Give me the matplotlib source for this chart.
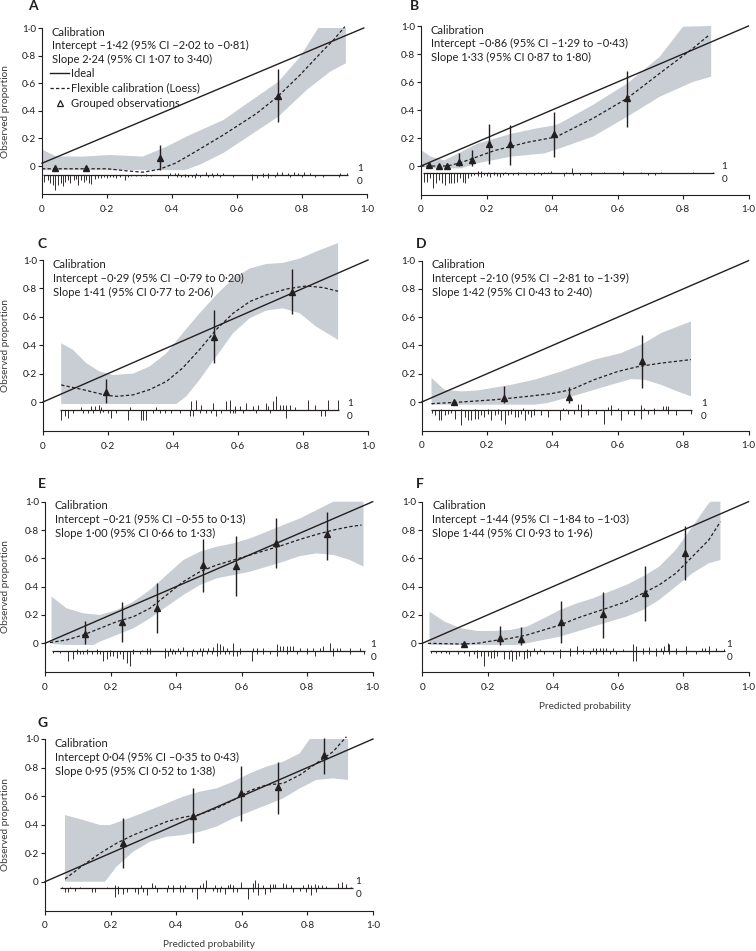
import numpy as np
import matplotlib
matplotlib.use("Agg")
import matplotlib.pyplot as plt
from matplotlib.lines import Line2D

plt.rcParams['font.family'] = ['Lato', 'DejaVu Sans']

INK = '#231f20'
BAND = '#c8ced4'

# ------------------------------------------------------------------ data
tick_values = [0.0, 0.2, 0.4, 0.6, 0.8, 1.0]

intercept_text = {
    'A': 'Intercept \u20131\u00b742 (95% CI \u20132\u00b702 to \u20130\u00b781)',
    'B': 'Intercept \u20130\u00b786 (95% CI \u20131\u00b729 to \u20130\u00b743)',
    'C': 'Intercept \u20130\u00b729 (95% CI \u20130\u00b779 to 0\u00b720)',
    'D': 'Intercept \u20132\u00b710 (95% CI \u20132\u00b781 to \u20131\u00b739)',
    'E': 'Intercept \u20130\u00b721 (95% CI \u20130\u00b755 to 0\u00b713)',
    'F': 'Intercept \u20131\u00b744 (95% CI \u20131\u00b784 to \u20131\u00b703)',
    'G': 'Intercept 0\u00b704 (95% CI \u20130\u00b735 to 0\u00b743)',
}
slope_text = {
    'A': 'Slope 2\u00b724 (95% CI 1\u00b707 to 3\u00b740)',
    'B': 'Slope 1\u00b733 (95% CI 0\u00b787 to 1\u00b780)',
    'C': 'Slope 1\u00b741 (95% CI 0\u00b777 to 2\u00b706)',
    'D': 'Slope 1\u00b742 (95% CI 0\u00b743 to 2\u00b740)',
    'E': 'Slope 1\u00b700 (95% CI 0\u00b766 to 1\u00b733)',
    'F': 'Slope 1\u00b744 (95% CI 0\u00b793 to 1\u00b796)',
    'G': 'Slope 0\u00b795 (95% CI 0\u00b752 to 1\u00b738)',
}

ideal_x = [0.0, 1.0]
ideal_y = [0.0, 1.0]
a_ideal_x = [0.0, 0.99]
a_ideal_y = [0.02, 1.0]

# ---- Panel A
a_loess_x = [0.0, 0.10, 0.20, 0.26, 0.31, 0.36, 0.41, 0.455, 0.558, 0.66, 0.727, 0.794, 0.866, 0.897, 0.932]
a_loess_y = [-0.02, -0.02, -0.02, -0.035, -0.045, -0.025, 0.02, 0.08, 0.225, 0.38, 0.507, 0.66, 0.84, 0.913, 1.01]
a_upper_x = [0.0, 0.043, 0.126, 0.21, 0.31, 0.383, 0.455, 0.558, 0.727, 0.794, 0.85, 0.935]
a_upper_y = [0.12, 0.07, 0.068, 0.08, 0.068, 0.14, 0.225, 0.333, 0.61, 0.79, 1.0, 1.0]
a_lower_x = [0.0, 0.44, 0.486, 0.558, 0.727, 0.814, 0.886, 0.935]
a_lower_y = [-0.03, -0.03, 0.01, 0.094, 0.357, 0.55, 0.683, 0.744]
a_obs_x = [0.041, 0.134, 0.364, 0.725]
a_obs_y = [-0.017, -0.017, 0.056, 0.51]
a_obs_lo = [-0.017, -0.017, -0.03, 0.32]
a_obs_hi = [-0.017, -0.017, 0.15, 0.70]
a_rug0_x = [0.007, 0.017, 0.025, 0.033, 0.041, 0.048, 0.057, 0.064, 0.072, 0.079, 0.087, 0.097, 0.105, 0.112,
            0.120, 0.128, 0.136, 0.144, 0.151, 0.162, 0.172, 0.182, 0.192, 0.201, 0.210, 0.218, 0.228, 0.239,
            0.254, 0.264, 0.275, 0.290, 0.306, 0.321, 0.336, 0.388, 0.414, 0.429, 0.439, 0.450, 0.460, 0.470,
            0.486, 0.511, 0.527, 0.547, 0.588, 0.645, 0.660, 0.681, 0.696, 0.717, 0.763, 0.799, 0.841, 0.866, 0.913]
a_rug0_n = [20, 15, 25, 30, 45, 30, 25, 35, 20, 15, 25, 15, 12, 30, 15, 20, 15, 25, 28, 12, 10, 8, 6, 8, 5, 6, 8, 6,
            15, 5, 4, 4, 4, 4, 4, 8, 6, 6, 6, 6, 6, 8, 5, 5, 5, 5, 6, 15, 8, 6, 10, 6, 5, 6, 5, 5, 5]
a_rug1_x = [0.321, 0.393, 0.408, 0.419, 0.439, 0.475, 0.506, 0.522, 0.537, 0.558, 0.645, 0.681, 0.696, 0.722,
            0.738, 0.758, 0.774, 0.789, 0.805, 0.825, 0.918, 0.938]
a_rug1_n = [3, 5, 5, 5, 3, 5, 8, 5, 5, 5, 4, 5, 5, 8, 10, 6, 8, 6, 10, 5, 6, 5]

# ---- Panel B
b_loess_x = [0.0, 0.03, 0.081, 0.122, 0.173, 0.224, 0.275, 0.326, 0.407, 0.424, 0.525, 0.63, 0.729, 0.83, 0.88]
b_loess_y = [0.0, 0.0, 0.0, 0.024, 0.067, 0.11, 0.14, 0.17, 0.205, 0.221, 0.34, 0.484, 0.662, 0.84, 0.936]
b_upper_x = [0.0, 0.03, 0.071, 0.173, 0.275, 0.356, 0.407, 0.424, 0.525, 0.63, 0.729, 0.80, 0.886]
b_upper_y = [0.114, 0.067, 0.04, 0.16, 0.23, 0.27, 0.29, 0.305, 0.436, 0.59, 0.78, 0.995, 1.0]
b_lower_x = [0.0, 0.03, 0.122, 0.173, 0.275, 0.377, 0.424, 0.525, 0.63, 0.729, 0.83, 0.886]
b_lower_y = [-0.005, -0.017, -0.017, 0.02, 0.067, 0.09, 0.126, 0.21, 0.352, 0.495, 0.60, 0.638]
b_obs_x = [0.025, 0.056, 0.079, 0.115, 0.156, 0.207, 0.273, 0.405, 0.63]
b_obs_y = [0.007, 0.0, 0.0, 0.03, 0.043, 0.157, 0.157, 0.226, 0.488]
b_obs_lo = [0.007, 0.0, 0.0, 0.0, 0.0, 0.012, 0.01, 0.062, 0.28]
b_obs_hi = [0.007, 0.0, 0.0, 0.09, 0.114, 0.30, 0.29, 0.383, 0.68]
b_rug0_x = [0.010, 0.018, 0.027, 0.037, 0.046, 0.056, 0.064, 0.073, 0.084, 0.092, 0.102, 0.110, 0.118, 0.127,
            0.134, 0.143, 0.153, 0.163, 0.173, 0.183, 0.193, 0.202, 0.212, 0.222, 0.232, 0.240, 0.251, 0.265,
            0.280, 0.295, 0.321, 0.346, 0.367, 0.438, 0.463, 0.484, 0.519, 0.616, 0.692, 0.713]
b_rug0_n = [25, 25, 15, 45, 30, 20, 30, 35, 30, 30, 30, 25, 15, 25, 30, 15, 8, 6, 8, 12, 6, 8, 10, 6, 8, 10, 6, 5,
            4, 5, 4, 5, 5, 8, 6, 5, 5, 5, 4, 4]
b_rug1_x = [0.173, 0.183, 0.204, 0.224, 0.255, 0.295, 0.356, 0.377, 0.387, 0.397, 0.443, 0.460, 0.519, 0.560,
            0.616, 0.672, 0.733, 0.830, 0.891]
b_rug1_n = [6, 8, 5, 4, 4, 3, 5, 5, 3, 6, 5, 15, 4, 4, 6, 3, 3, 5, 3]

# ---- Panel C
c_loess_x = [0.056, 0.123, 0.195, 0.226, 0.277, 0.328, 0.38, 0.43, 0.482, 0.533, 0.585, 0.636, 0.687, 0.749,
             0.81, 0.862, 0.908]
c_loess_y = [0.12, 0.087, 0.047, 0.04, 0.05, 0.087, 0.145, 0.24, 0.37, 0.51, 0.625, 0.707, 0.754, 0.796,
             0.817, 0.806, 0.78]
c_upper_x = [0.056, 0.092, 0.133, 0.174, 0.215, 0.277, 0.328, 0.38, 0.43, 0.482, 0.533, 0.585, 0.636, 0.687,
             0.738, 0.79, 0.841, 0.908]
c_upper_y = [0.414, 0.368, 0.274, 0.215, 0.19, 0.2, 0.25, 0.344, 0.485, 0.625, 0.754, 0.87, 0.94, 0.972,
             0.98, 1.01, 1.06, 1.12]
c_lower_x = [0.056, 0.41, 0.441, 0.482, 0.533, 0.585, 0.636, 0.687, 0.738, 0.79, 0.841, 0.908]
c_lower_y = [-0.014, -0.014, 0.04, 0.157, 0.32, 0.485, 0.59, 0.644, 0.66, 0.625, 0.53, 0.438]
c_obs_x = [0.195, 0.526, 0.766]
c_obs_y = [0.07, 0.46, 0.777]
c_obs_lo = [-0.007, 0.274, 0.618]
c_obs_hi = [0.16, 0.65, 0.934]
c_rug0_x = [0.056, 0.067, 0.077, 0.092, 0.123, 0.138, 0.154, 0.174, 0.185, 0.200, 0.210, 0.226, 0.262, 0.303,
            0.308, 0.318, 0.338, 0.359, 0.374, 0.395, 0.421, 0.451, 0.462, 0.482, 0.503, 0.518, 0.533, 0.549,
            0.574, 0.585, 0.590, 0.615, 0.656, 0.697, 0.749, 0.856, 0.867]
c_rug0_n = [30, 20, 25, 10, 10, 10, 10, 10, 8, 10, 25, 10, 30, 30, 30, 30, 10, 10, 10, 10, 10, 20, 20, 10, 10,
            10, 20, 10, 10, 10, 10, 10, 10, 10, 25, 20, 20]
c_rug1_x = [0.118, 0.149, 0.159, 0.172, 0.179, 0.267, 0.349, 0.456, 0.472, 0.487, 0.523, 0.564, 0.574, 0.590,
            0.605, 0.626, 0.646, 0.662, 0.687, 0.692, 0.708, 0.718, 0.728, 0.738, 0.749, 0.759, 0.774, 0.815,
            0.836, 0.877, 0.908]
c_rug1_n = [8, 12, 10, 15, 8, 8, 8, 25, 30, 15, 20, 25, 30, 12, 12, 20, 12, 15, 20, 10, 25, 40, 15, 15, 15, 15,
            8, 30, 15, 30, 30]

# ---- Panel D
d_loess_x = [0.03, 0.121, 0.223, 0.325, 0.396, 0.457, 0.528, 0.60, 0.661, 0.732, 0.824]
d_loess_y = [-0.012, 0.0, 0.016, 0.04, 0.059, 0.087, 0.158, 0.216, 0.25, 0.275, 0.30]
d_upper_x = [0.03, 0.07, 0.121, 0.172, 0.274, 0.345, 0.427, 0.528, 0.61, 0.681, 0.732, 0.783, 0.824]
d_upper_y = [0.17, 0.087, 0.075, 0.082, 0.122, 0.158, 0.216, 0.30, 0.346, 0.417, 0.487, 0.534, 0.57]
d_lower_x = [0.03, 0.345, 0.386, 0.478, 0.58, 0.641, 0.681, 0.732, 0.783, 0.824]
d_lower_y = [-0.019, -0.019, -0.007, 0.052, 0.122, 0.162, 0.158, 0.122, 0.075, 0.04]
d_obs_x = [0.1, 0.253, 0.452, 0.674]
d_obs_y = [-0.003, 0.028, 0.033, 0.287]
d_obs_lo = [-0.003, -0.01, -0.01, 0.10]
d_obs_hi = [-0.003, 0.11, 0.106, 0.475]
d_rug0_x = [0.033, 0.042, 0.052, 0.060, 0.070, 0.080, 0.091, 0.103, 0.121, 0.133, 0.142, 0.152, 0.162, 0.172,
            0.182, 0.192, 0.203, 0.213, 0.223, 0.233, 0.243, 0.254, 0.264, 0.274, 0.284, 0.294, 0.304, 0.315,
            0.325, 0.335, 0.345, 0.366, 0.386, 0.422, 0.447, 0.467, 0.488, 0.508, 0.534, 0.559, 0.579, 0.610,
            0.630, 0.651, 0.671, 0.691, 0.712, 0.753, 0.778, 0.824]
d_rug0_n = [8, 15, 30, 30, 15, 10, 8, 25, 45, 20, 30, 30, 25, 25, 15, 20, 10, 30, 15, 10, 30, 40, 15, 10, 20,
            20, 10, 30, 10, 20, 15, 15, 20, 30, 10, 10, 20, 15, 10, 40, 15, 30, 10, 15, 25, 10, 10, 10, 15, 10]
d_rug1_x = [0.060, 0.121, 0.162, 0.203, 0.233, 0.274, 0.310, 0.345, 0.432, 0.442, 0.478, 0.488, 0.508, 0.569,
            0.579, 0.600, 0.671, 0.681, 0.712, 0.737, 0.747, 0.753]
d_rug1_n = [4, 4, 4, 4, 4, 4, 8, 4, 8, 4, 18, 20, 4, 10, 15, 8, 15, 8, 8, 12, 12, 12]

# ---- Panel E
e_loess_x = [0.015, 0.066, 0.117, 0.168, 0.219, 0.27, 0.32, 0.371, 0.422, 0.473, 0.524, 0.575, 0.626, 0.677,
             0.727, 0.778, 0.829, 0.88, 0.931, 0.966]
e_loess_y = [0.005, 0.024, 0.059, 0.106, 0.153, 0.188, 0.247, 0.341, 0.435, 0.506, 0.553, 0.588, 0.624, 0.659,
             0.694, 0.734, 0.769, 0.80, 0.824, 0.835]
e_upper_x = [0.02, 0.066, 0.117, 0.168, 0.219, 0.27, 0.32, 0.371, 0.422, 0.473, 0.524, 0.575, 0.626, 0.677,
             0.727, 0.778, 0.829, 0.88, 0.972]
e_upper_y = [0.33, 0.247, 0.212, 0.2, 0.235, 0.294, 0.376, 0.482, 0.588, 0.647, 0.682, 0.706, 0.741, 0.788,
             0.835, 0.882, 0.941, 1.0, 1.0]
e_lower_x = [0.02, 0.066, 0.148, 0.168, 0.219, 0.27, 0.32, 0.371, 0.422, 0.473, 0.524, 0.575, 0.626, 0.677,
             0.727, 0.778, 0.829, 0.88, 0.931, 0.972]
e_lower_y = [-0.005, -0.012, -0.012, 0.012, 0.059, 0.106, 0.176, 0.259, 0.341, 0.412, 0.459, 0.482, 0.506,
             0.541, 0.576, 0.616, 0.635, 0.624, 0.588, 0.541]
e_obs_x = [0.122, 0.235, 0.342, 0.481, 0.582, 0.705, 0.861]
e_obs_y = [0.066, 0.153, 0.252, 0.553, 0.548, 0.706, 0.769]
e_obs_lo = [-0.007, 0.007, 0.07, 0.365, 0.334, 0.529, 0.588]
e_obs_hi = [0.16, 0.29, 0.424, 0.734, 0.758, 0.882, 0.929]
e_rug0_x = [0.025, 0.046, 0.071, 0.086, 0.099, 0.107, 0.117, 0.129, 0.142, 0.158, 0.168, 0.178, 0.188, 0.198,
            0.209, 0.219, 0.229, 0.239, 0.249, 0.259, 0.270, 0.290, 0.310, 0.320, 0.366, 0.376, 0.387, 0.397,
            0.412, 0.432, 0.448, 0.463, 0.478, 0.493, 0.509, 0.524, 0.534, 0.549, 0.560, 0.575, 0.585, 0.595,
            0.631, 0.646, 0.666, 0.687, 0.707, 0.738, 0.768, 0.799, 0.824, 0.880, 0.931, 0.972]
e_rug0_n = [5, 5, 30, 25, 10, 10, 8, 10, 8, 10, 10, 30, 25, 15, 15, 20, 10, 25, 35, 45, 8, 10, 10, 8, 20, 15,
            10, 10, 10, 15, 15, 10, 15, 10, 10, 15, 10, 10, 10, 15, 15, 10, 30, 10, 10, 10, 15, 10, 10, 10, 15,
            15, 10, 8]
e_rug1_x = [0.097, 0.127, 0.158, 0.198, 0.270, 0.295, 0.310, 0.320, 0.366, 0.381, 0.392, 0.407, 0.422, 0.453,
            0.473, 0.483, 0.498, 0.514, 0.524, 0.534, 0.544, 0.554, 0.575, 0.595, 0.636, 0.646, 0.666, 0.707,
            0.717, 0.727, 0.738, 0.748, 0.758, 0.778, 0.799, 0.819, 0.839, 0.849, 0.870, 0.880, 0.890, 0.900,
            0.931, 0.961]
e_rug1_n = [5, 5, 5, 4, 5, 4, 8, 8, 8, 8, 6, 10, 12, 5, 10, 10, 10, 12, 25, 20, 15, 10, 25, 10, 10, 10, 10, 20,
            15, 15, 15, 15, 15, 10, 10, 10, 10, 15, 25, 10, 10, 10, 10, 10]

# ---- Panel F
f_loess_x = [0.017, 0.119, 0.169, 0.22, 0.27, 0.321, 0.372, 0.422, 0.473, 0.524, 0.574, 0.625, 0.676, 0.726,
             0.777, 0.828, 0.878, 0.914]
f_loess_y = [0.0, -0.005, 0.0, 0.019, 0.035, 0.059, 0.094, 0.129, 0.176, 0.216, 0.254, 0.294, 0.353, 0.412,
             0.494, 0.612, 0.729, 0.859]
f_upper_x = [0.022, 0.068, 0.119, 0.169, 0.22, 0.27, 0.321, 0.372, 0.422, 0.473, 0.524, 0.574, 0.625, 0.676,
             0.726, 0.777, 0.828, 0.878, 0.884, 0.914]
f_upper_y = [0.224, 0.153, 0.106, 0.087, 0.087, 0.094, 0.118, 0.176, 0.235, 0.282, 0.318, 0.365, 0.412, 0.471,
             0.541, 0.659, 0.824, 0.988, 1.0, 1.0]
f_lower_x = [0.022, 0.29, 0.321, 0.372, 0.422, 0.473, 0.524, 0.574, 0.625, 0.676, 0.726, 0.777, 0.828, 0.878,
             0.914]
f_lower_y = [-0.012, -0.012, 0.0, 0.024, 0.047, 0.082, 0.118, 0.153, 0.188, 0.235, 0.306, 0.40, 0.494, 0.565,
             0.588]
f_obs_x = [0.127, 0.238, 0.304, 0.426, 0.554, 0.684, 0.805]
f_obs_y = [-0.005, 0.035, 0.033, 0.153, 0.205, 0.358, 0.64]
f_obs_lo = [-0.005, -0.012, -0.012, 0.005, 0.035, 0.16, 0.447]
f_obs_hi = [-0.005, 0.122, 0.113, 0.299, 0.365, 0.546, 0.828]
f_rug0_x = [0.027, 0.043, 0.058, 0.073, 0.083, 0.108, 0.129, 0.144, 0.159, 0.169, 0.179, 0.189, 0.200, 0.210,
            0.220, 0.230, 0.250, 0.265, 0.276, 0.286, 0.296, 0.311, 0.321, 0.331, 0.352, 0.372, 0.402, 0.422,
            0.453, 0.473, 0.493, 0.514, 0.534, 0.554, 0.574, 0.595, 0.645, 0.656, 0.676, 0.696, 0.716, 0.737,
            0.757, 0.777, 0.808, 0.838, 0.878]
f_rug0_n = [5, 5, 5, 5, 10, 10, 5, 15, 10, 20, 15, 45, 15, 20, 20, 15, 25, 25, 30, 25, 15, 25, 20, 15, 8, 10,
            10, 20, 15, 10, 10, 8, 10, 10, 10, 10, 30, 30, 10, 10, 15, 10, 10, 8, 8, 8, 8]
f_rug1_x = [0.169, 0.220, 0.271, 0.321, 0.341, 0.362, 0.422, 0.453, 0.473, 0.493, 0.524, 0.534, 0.544, 0.554,
            0.564, 0.585, 0.615, 0.645, 0.656, 0.676, 0.696, 0.716, 0.732, 0.742, 0.752, 0.757, 0.777, 0.808,
            0.858, 0.868, 0.878, 0.899, 0.924]
f_rug1_n = [4, 4, 4, 5, 10, 5, 6, 8, 15, 5, 8, 8, 10, 10, 8, 10, 5, 20, 15, 10, 12, 10, 10, 15, 25, 20, 10, 15,
            8, 8, 15, 8, 5]

# ---- Panel G
g_loess_x = [0.061, 0.117, 0.168, 0.218, 0.269, 0.32, 0.371, 0.421, 0.472, 0.523, 0.574, 0.624, 0.675, 0.726,
             0.777, 0.827, 0.878, 0.919]
g_loess_y = [0.019, 0.117, 0.199, 0.269, 0.327, 0.374, 0.421, 0.451, 0.472, 0.514, 0.572, 0.638, 0.678, 0.689,
             0.748, 0.829, 0.911, 1.016]
g_upper_x = [0.061, 0.117, 0.168, 0.198, 0.269, 0.32, 0.371, 0.421, 0.472, 0.523, 0.574, 0.624, 0.675, 0.726,
             0.777, 0.807, 0.924]
g_upper_y = [0.467, 0.432, 0.397, 0.397, 0.456, 0.502, 0.549, 0.596, 0.631, 0.654, 0.701, 0.759, 0.806, 0.841,
             0.90, 1.0, 1.0]
g_lower_x = [0.061, 0.183, 0.218, 0.269, 0.32, 0.371, 0.421, 0.472, 0.523, 0.574, 0.624, 0.675, 0.726, 0.777,
             0.827, 0.878, 0.924]
g_lower_y = [0.0, 0.0, 0.105, 0.21, 0.28, 0.315, 0.327, 0.35, 0.386, 0.444, 0.49, 0.537, 0.584, 0.654, 0.713,
             0.724, 0.713]
g_obs_x = [0.239, 0.452, 0.599, 0.711, 0.85]
g_obs_y = [0.273, 0.46, 0.619, 0.661, 0.888]
g_obs_lo = [0.098, 0.269, 0.428, 0.472, 0.752]
g_obs_hi = [0.444, 0.659, 0.811, 0.841, 1.005]
g_rug0_x = [0.061, 0.071, 0.091, 0.142, 0.152, 0.213, 0.223, 0.239, 0.249, 0.274, 0.284, 0.299, 0.310, 0.340,
            0.371, 0.391, 0.411, 0.421, 0.447, 0.462, 0.487, 0.513, 0.523, 0.533, 0.548, 0.574, 0.584, 0.619,
            0.635, 0.650, 0.670, 0.685, 0.756, 0.777, 0.797, 0.812, 0.827]
g_rug0_n = [10, 10, 8, 10, 10, 25, 15, 15, 10, 10, 15, 10, 20, 10, 10, 10, 10, 10, 10, 30, 10, 8, 10, 10, 15,
            10, 10, 30, 10, 20, 15, 10, 10, 8, 10, 20, 10]
g_rug1_x = [0.051, 0.076, 0.107, 0.188, 0.213, 0.223, 0.294, 0.325, 0.335, 0.376, 0.391, 0.411, 0.426, 0.472,
            0.482, 0.492, 0.518, 0.538, 0.558, 0.563, 0.574, 0.599, 0.635, 0.640, 0.650, 0.665, 0.685, 0.695,
            0.701, 0.726, 0.736, 0.751, 0.787, 0.802, 0.812, 0.822, 0.832, 0.843, 0.858, 0.893, 0.904, 0.919,
            0.934]
g_rug1_n = [5, 5, 5, 5, 10, 8, 10, 15, 10, 10, 10, 10, 10, 10, 15, 25, 10, 8, 10, 12, 10, 20, 15, 25, 15, 10,
            12, 12, 12, 15, 12, 10, 10, 12, 10, 12, 10, 10, 8, 15, 20, 12, 4]

# ------------------------------------------------------------------ layout / style
W, H = 756, 951
YMIN = -0.205
RUG_SCALE = 1 / 420.0   # spike length per count unit
TXT = 8.0
TICK = 7.2

# left, right (px of x=0 and x=1), top px (y=1), zero px (y=0)
layout = {
    'A': dict(px=(42, 367, 28, 166), letter=(28, 10), rug=-0.065, lab=0.04),
    'B': dict(px=(421, 748.5, 26, 166), letter=(410, 10), rug=-0.052, lab=0.035),
    'C': dict(px=(43, 368, 260, 402), letter=(38, 248), rug=-0.054, lab=0.036),
    'D': dict(px=(421.7, 748.5, 260.7, 402), letter=(416, 248), rug=-0.059, lab=0.04),
    'E': dict(px=(45, 372.7, 501.7, 643.3), letter=(38, 488), rug=-0.054, lab=0.03),
    'F': dict(px=(422.3, 748.5, 501.7, 643.3), letter=(416, 488), rug=-0.054, lab=0.018),
    'G': dict(px=(45, 373, 739, 881.7), letter=(38, 727), rug=-0.047, lab=0.022),
}

panels = {}
for key in 'ABCDEFG':
    p = key.lower()
    g = globals()
    panels[key] = dict(
        loess=(g[p + '_loess_x'], g[p + '_loess_y']),
        upper=(g[p + '_upper_x'], g[p + '_upper_y']),
        lower=(g[p + '_lower_x'], g[p + '_lower_y']),
        obs=(g[p + '_obs_x'], g[p + '_obs_y'], g[p + '_obs_lo'], g[p + '_obs_hi']),
        rug0=(g[p + '_rug0_x'], g[p + '_rug0_n']),
        rug1=(g[p + '_rug1_x'], g[p + '_rug1_n']),
    )


def fmt(v):
    return '0' if v == 0 else ('%.1f' % v).replace('.', '\u00b7')


fig = plt.figure(figsize=(W / 100, H / 100), dpi=100)

for key in 'ABCDEFG':
    d = panels[key]
    lay = layout[key]
    x0, x1, ytop, yzero = lay['px']
    unit = yzero - ytop
    ybot = yzero - YMIN * unit
    ax = fig.add_axes([x0 / W, 1 - ybot / H, (x1 - x0) / W, (ybot - ytop) / H])
    ax.set_xlim(0, 1)
    ax.set_ylim(YMIN, 1.0)
    ax.patch.set_alpha(0)

    # CI band
    ux, uy = d['upper']
    lx, ly = d['lower']
    ax.fill(list(ux) + list(lx)[::-1], list(uy) + list(ly)[::-1], color=BAND, lw=0,
            zorder=1, clip_on=False)

    # ideal line
    if key == 'A':
        ax.plot(a_ideal_x, a_ideal_y, color=INK, lw=1.0, zorder=3, clip_on=False)
    else:
        ax.plot(ideal_x, ideal_y, color=INK, lw=1.0, zorder=3, clip_on=False)

    # loess
    lxs, lys = d['loess']
    ax.plot(lxs, lys, color=INK, lw=0.9, ls=(0, (2.6, 1.8)), zorder=4, clip_on=False)

    # grouped observations
    ox, oy, olo, ohi = d['obs']
    ax.vlines(ox, olo, ohi, color=INK, lw=1.0, zorder=5, clip_on=False)
    ax.plot(ox, oy, ls='none', marker='^', ms=3.8, color=INK, zorder=6, clip_on=False)

    # rug / spike histogram
    base = lay['rug']
    r0x, r0n = d['rug0']
    r1x, r1n = d['rug1']
    r0n = np.asarray(r0n) * RUG_SCALE
    r1n = np.asarray(r1n) * RUG_SCALE
    ax.vlines(r0x, base - r0n, base, color=INK, lw=0.65, zorder=3)
    ax.vlines(r1x, base, base + r1n, color=INK, lw=0.65, zorder=3)
    allx = list(r0x) + list(r1x)
    xa, xb = min(allx), max(allx)
    ax.hlines(base, xa - 0.004, xb + 0.004, color=INK, lw=0.9, zorder=3)
    ax.text(xb + lay['lab'], base + 0.045, '1', fontsize=7.2, color=INK, ha='center', va='center')
    ax.text(xb + lay['lab'], base - 0.045, '0', fontsize=7.2, color=INK, ha='center', va='center')

    # calibration text
    tx = 0.03
    ax.text(tx, 0.97, 'Calibration', fontsize=TXT, color=INK, ha='left', va='center')
    ax.text(tx, 0.872, intercept_text[key], fontsize=TXT, color=INK, ha='left', va='center')
    ax.text(tx, 0.774, slope_text[key], fontsize=TXT, color=INK, ha='left', va='center')

    if key == 'A':
        handles = [
            Line2D([], [], color=INK, lw=1.0),
            Line2D([], [], color=INK, lw=0.9, ls=(0, (2.6, 1.8))),
            Line2D([], [], ls='none', marker='^', ms=5, mfc='none', mec=INK, mew=0.9),
        ]
        labels = ['Ideal', 'Flexible calibration (Loess)', 'Grouped observations']
        leg = ax.legend(handles, labels, loc='upper left', bbox_to_anchor=(0.025, 0.762),
                        frameon=False, fontsize=TXT, handlelength=1.7, handletextpad=0.2,
                        labelspacing=0.36, borderpad=0, borderaxespad=0)
        for t in leg.get_texts():
            t.set_color(INK)

    # axes styling
    for s in ('top', 'right'):
        ax.spines[s].set_visible(False)
    for s in ('left', 'bottom'):
        ax.spines[s].set_linewidth(0.8)
        ax.spines[s].set_color(INK)
    ax.set_xticks(tick_values)
    ax.set_yticks(tick_values)
    ax.set_xticklabels([fmt(v) for v in tick_values])
    ax.set_yticklabels([fmt(v) for v in tick_values])
    ax.tick_params(axis='y', length=3.2, width=0.8, pad=1.2, labelsize=TICK, colors=INK)
    ax.tick_params(axis='x', length=3.0, width=0.8, pad=4.5, labelsize=TICK, colors=INK)

    if key in 'ACEG':
        ax.annotate('Observed proportion', xy=(0, 0.5), xycoords='axes fraction',
                    xytext=(6 - x0, 0), textcoords='offset pixels', rotation=90,
                    ha='center', va='center', fontsize=7.2, color='#3a3a3a')
    if key in 'FG':
        ax.annotate('Predicted probability', xy=(0.5, 0), xycoords='axes fraction',
                    xytext=(0, -34), textcoords='offset pixels',
                    ha='center', va='center', fontsize=7.2, color='#3a3a3a')

    lx_, ly_ = lay['letter']
    fig.text(lx_ / W, 1 - ly_ / H, key, fontsize=10, fontweight='bold', color=INK,
             ha='left', va='baseline')

fig.savefig('out.png', dpi=100)
